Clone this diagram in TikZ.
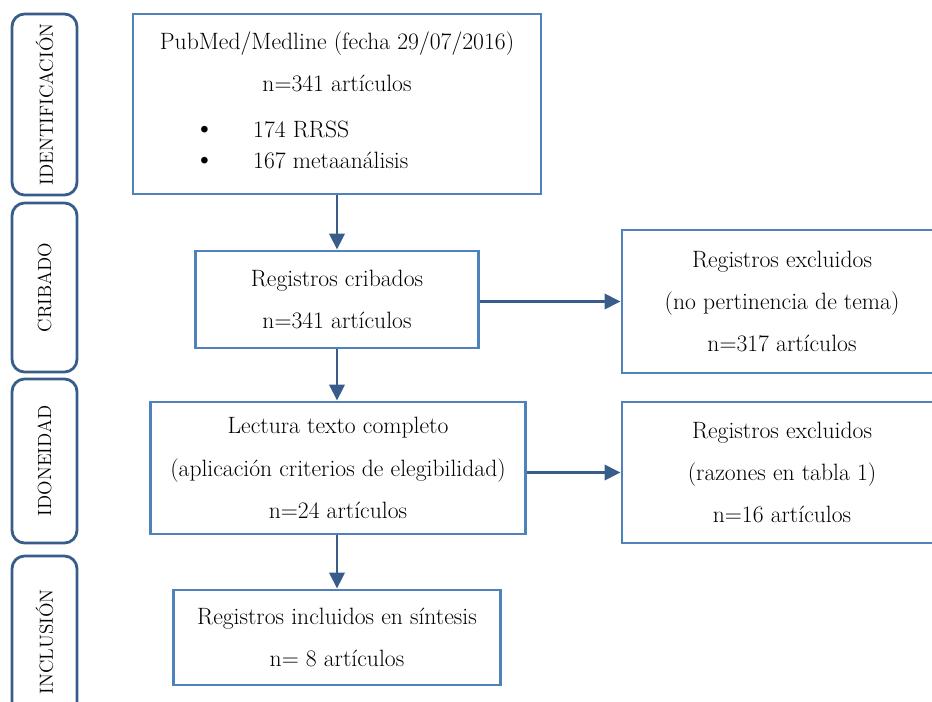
\documentclass[tikz,border=0pt]{standalone}
\usepackage{tikz}
\usetikzlibrary{arrows.meta,backgrounds}

\definecolor{boxblue}{RGB}{79,129,189}
\definecolor{darkblue}{RGB}{56,93,138}

\tikzset{
  caja/.style={draw=boxblue,line width=2pt,align=center,inner sep=0pt,
    font=\fontsize{16.8}{30}\selectfont},
  fase/.style={draw=darkblue,line width=2pt,rounded corners=9pt,rotate=90,
    inner sep=0pt,minimum height=1.625cm,font=\fontsize{13.5}{16}\selectfont},
  flecha/.style={draw=darkblue,line width=2pt,-{Triangle[length=0.4cm,width=0.38cm]}}
}

\begin{document}
\begin{tikzpicture}[x=0.025cm,y=-0.025cm]
          \clip (0,0) rectangle (932,702);
          % fases
          \node[fase,minimum width=4.525cm] (ident) at (44.5,104.5){IDENTIFICACIÓN};
          \node[fase,minimum width=4.225cm] (crib) at (44.5,287.5){CRIBADO};
          \node[fase,minimum width=4.1cm] (idon) at (44.5,461){IDONEIDAD};
          \node[fase,minimum width=4.3cm] (incl) at (44.5,642){INCLUSIÓN};

          % cajas
          \node[caja,minimum width=10.2cm,minimum height=4.5cm] (pubmed) at (337,104){
            PubMed/Medline (fecha 29/07/2016)\\
            n=341 artículos\\[3pt]
            \makebox[7.15cm][l]{\scalebox{1.25}{\textbullet}\hspace{0.95cm}174 RRSS}\\[-8pt]
            \makebox[7.15cm][l]{\scalebox{1.25}{\textbullet}\hspace{0.95cm}167 metaanálisis}\rule[-0.2cm]{0pt}{0pt}};
          \node[caja,minimum width=7.075cm,minimum height=2.425cm] (cribados) at (337,299.5){
            Registros cribados\\ n=341 artículos};
          \node[caja,minimum width=9.375cm,minimum height=3.3cm] (lectura) at (338,468){
            Lectura texto completo\\ (aplicación criterios de elegibilidad)\\ n=24 artículos};
          \node[caja,minimum width=8.175cm,minimum height=2.375cm] (incluidos) at (337,637.5){
            Registros incluidos en síntesis\\ n= 8 artículos};
          \node[caja,minimum width=8cm,minimum height=3.575cm] (excl1) at (782,301.5){
            Registros excluidos\\ (no pertinencia de tema)\\ n=317 artículos};
          \node[caja,minimum width=8cm,minimum height=3.525cm] (excl2) at (782,472.5){
            Registros excluidos\\ (razones en tabla 1)\\ n=16 artículos};

          % flechas
          \draw[flecha] (pubmed.south) -- (pubmed.south |- cribados.north);
          \draw[flecha] (cribados.south) -- (cribados.south |- lectura.north);
          \draw[flecha] (lectura.south -| incluidos.north) -- (incluidos.north);
          \draw[flecha] (cribados.east |- excl1.west) -- (excl1.west);
          \draw[flecha] (lectura.east |- excl2.west) -- (excl2.west);
        \end{tikzpicture}
\end{document}
